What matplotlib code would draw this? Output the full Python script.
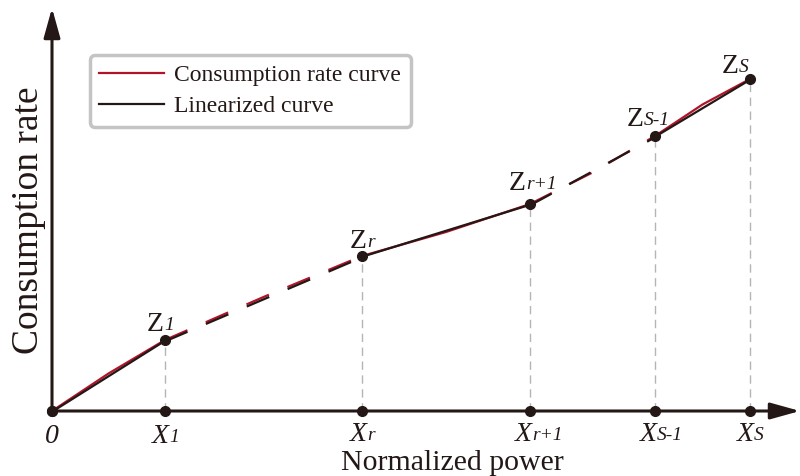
import matplotlib.pyplot as plt
from matplotlib.lines import Line2D

plt.rcParams['font.family'] = ['Liberation Serif', 'DejaVu Serif']

# breakpoints of the piecewise linearization
xs = [0.0, 1.13, 3.10, 4.78, 6.03, 6.98]
zs = [0.0, 0.71, 1.55, 2.07, 2.75, 3.32]
z_names = [None, '1', 'r', 'r+1', 'S-1', 'S']
x_names = ['0', '1', 'r', 'r+1', 'S-1', 'S']

# consumption rate curve sampled at breakpoints and midpoints
curve_x = [0.0, 0.565, 1.13, 2.115, 3.10, 3.94, 4.78, 5.405, 6.03, 6.505, 6.98]
curve_y = [0.0, 0.375, 0.71, 1.14, 1.55, 1.79, 2.07, 2.385, 2.75, 3.065, 3.32]

# segments drawn solid, the rest dashed (omitted intervals)
solid = [(0, 1), (2, 3), (4, 5)]
dashed = [(1, 2), (3, 4)]

red = '#b31329'
blk = '#231815'
grey = '#b5b5b5'

fig = plt.figure(figsize=(8, 4.76), dpi=100)
ax = fig.add_axes([0, 0, 1, 1])
ax.set_xlim(-0.52, 7.48)
ax.set_ylim(-0.65, 4.11)
ax.axis('off')

# axes with arrow heads
arrow = dict(arrowstyle='-|>,head_length=0.9,head_width=0.25', mutation_scale=20,
             lw=2.2, color=blk, shrinkA=0, shrinkB=0)
ax.annotate('', xy=(7.48, 0), xytext=(0, 0), arrowprops=arrow)
ax.annotate('', xy=(0, 4.03), xytext=(0, 0), arrowprops=arrow)

# guide lines from the axis up to each breakpoint
for x, z in zip(xs[1:], zs[1:]):
    ax.plot([x, x], [0, z], color=grey, lw=1, dashes=(6, 4), zorder=1)


def piece(i, j, px, py):
    xa, xb = xs[i], xs[j]
    sel = [k for k, v in enumerate(px) if xa - 1e-9 <= v <= xb + 1e-9]
    return [px[k] for k in sel], [py[k] for k in sel]


for i, j in solid:
    cx, cy = piece(i, j, curve_x, curve_y)
    ax.plot(cx, cy, color=red, lw=1.6, zorder=2, solid_capstyle='butt')
    ax.plot([xs[i], xs[j]], [zs[i] - 0.008, zs[j] - 0.008], color=blk, lw=1.6,
            zorder=3, solid_capstyle='butt')

for i, j in dashed:
    cx, cy = piece(i, j, curve_x, curve_y)
    ax.plot(cx, cy, color=red, lw=1.6, zorder=2, dashes=(11, 9))
    ax.plot([xs[i], xs[j]], [zs[i] - 0.014, zs[j] - 0.014], color=blk, lw=1.6,
            zorder=3, dashes=(11, 9))

# breakpoint markers on the curve and on the x axis
ax.plot(xs, zs, 'o', color=blk, ms=7, zorder=4)
ax.plot(xs, [0] * len(xs), 'o', color=blk, ms=7, zorder=4)


def sub_label(x, y, main, sub, off, italic_main):
    t = ax.annotate(main, xy=(x, y), xytext=off, textcoords='offset pixels',
                    ha='left', va='baseline', fontsize=20, color=blk,
                    style='italic' if italic_main else 'normal')
    if sub:
        ax.annotate(sub, xy=(1, 0), xycoords=t, xytext=(0, 3),
                    textcoords='offset pixels', ha='left', va='bottom',
                    fontsize=14, style='italic', color=blk)


z_offsets = [None, (-18, 9), (-12, 8), (-21, 14), (-28, 10), (-28, 6)]
for x, z, name, off in zip(xs, zs, z_names, z_offsets):
    if name is None:
        continue
    sub_label(x, z, 'Z', name, off, False)

x_offsets = [(-7, -32), (-13, -32), (-12, -30), (-15, -30), (-15, -30), (-13, -30)]
for x, name, off in zip(xs, x_names, x_offsets):
    if name == '0':
        sub_label(x, 0, '0', None, off, True)
    else:
        sub_label(x, 0, 'X', name, off, True)

fig.text(0.565, 0.001, 'Normalized power', ha='center', va='bottom',
         fontsize=21.5, color=blk)
fig.text(0.014, 1 - 220 / 476, 'Consumption rate', ha='left', va='center',
         rotation=90, fontsize=27, color=blk)

handles = [Line2D([0], [0], color=red, lw=1.6),
           Line2D([0], [0], color=blk, lw=1.6)]
leg = ax.legend(handles, ['Consumption rate curve', 'Linearized curve'],
                loc='upper left', bbox_to_anchor=(90 / 800, 1 - 55 / 476),
                borderaxespad=0, fontsize=17, handlelength=2.75,
                handletextpad=0.42, labelspacing=0.42, borderpad=0.4,
                fancybox=True, framealpha=1)
leg.get_frame().set_edgecolor('#c4c4c4')
leg.get_frame().set_linewidth(2.5)
for t in leg.get_texts():
    t.set_color(blk)

fig.savefig('out.png', dpi=100)
